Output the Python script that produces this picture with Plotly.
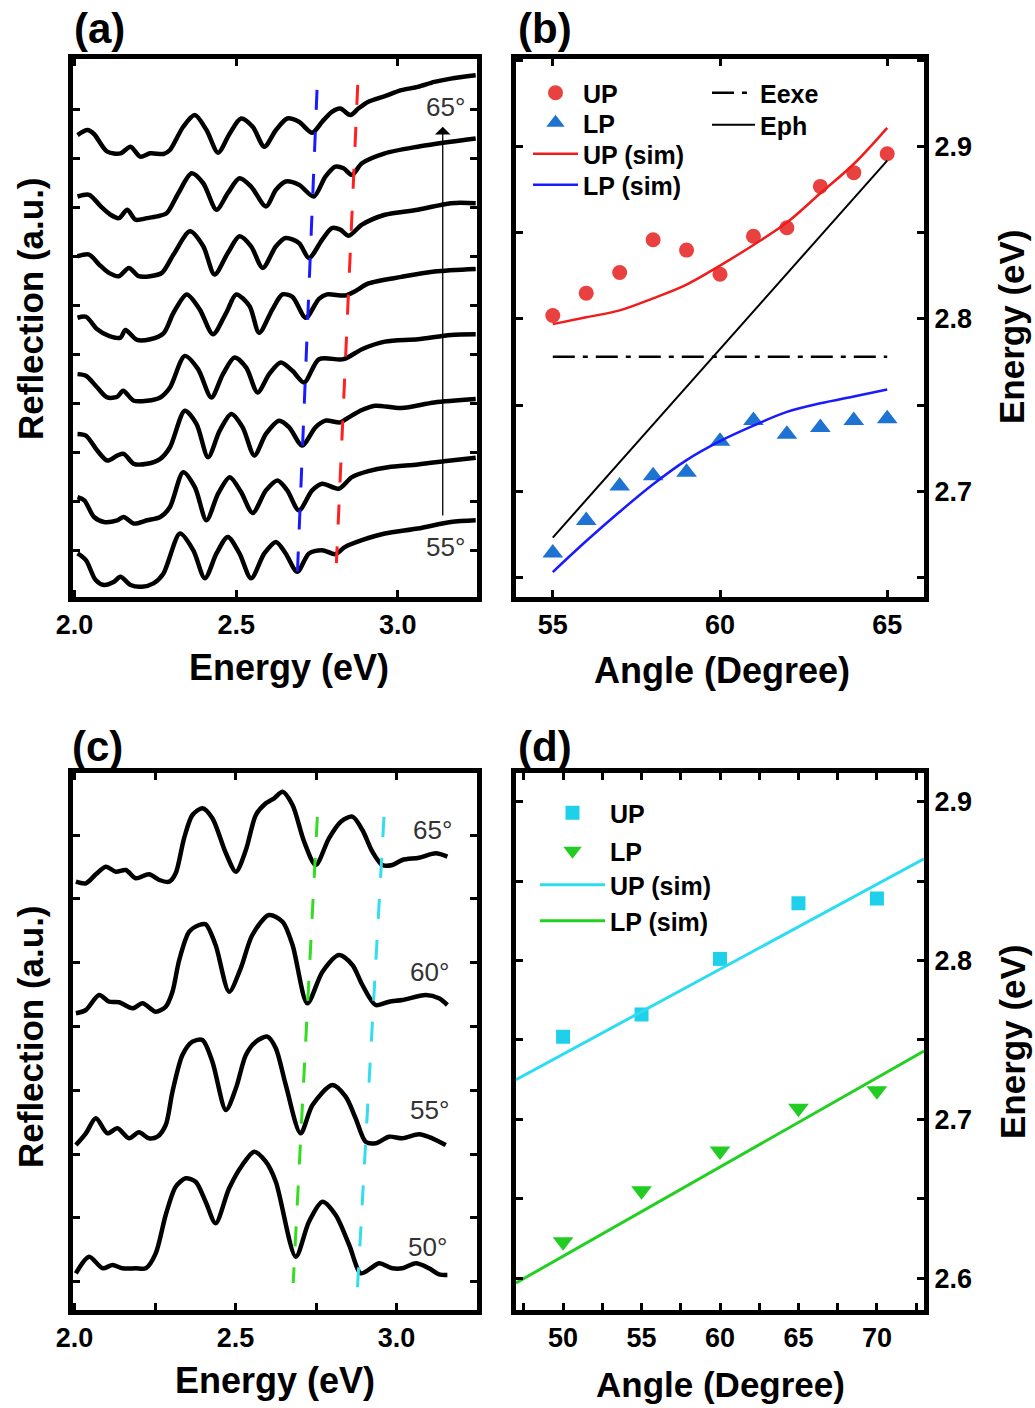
import plotly.graph_objects as go

FONT = "Liberation Sans, Arial, sans-serif"

# ---------------- Panel (a): reflection spectra, top (65°) to bottom (55°) ----------------
a1_e = [2.009, 2.040, 2.060, 2.101, 2.142, 2.173, 2.203, 2.234, 2.275, 2.295, 2.336, 2.372, 2.408, 2.444, 2.480, 2.515, 2.551, 2.587, 2.623, 2.658, 2.694, 2.735, 2.766, 2.796, 2.822, 2.853, 2.878, 2.909, 2.960, 3.011, 3.062, 3.113, 3.164, 3.241]
a1_r = [46.67, 47.17, 46.77, 45.0, 44.83, 45.5, 44.5, 44.83, 44.77, 45.17, 47.5, 48.67, 47.17, 44.9, 46.83, 48.33, 47.5, 45.5, 47.17, 48.33, 48.0, 46.9, 48.0, 49.0, 49.33, 48.67, 49.33, 50.0, 50.57, 51.17, 51.5, 52.0, 52.33, 52.67]

a2_e = [2.009, 2.045, 2.081, 2.111, 2.137, 2.163, 2.188, 2.224, 2.255, 2.285, 2.321, 2.362, 2.398, 2.439, 2.474, 2.510, 2.546, 2.592, 2.623, 2.653, 2.694, 2.740, 2.776, 2.807, 2.832, 2.858, 2.889, 2.960, 3.062, 3.164, 3.241]
a2_r = [40.5, 40.67, 39.5, 38.67, 38.33, 39.17, 38.17, 38.33, 38.5, 38.83, 40.83, 42.83, 41.83, 39.17, 40.83, 42.33, 41.5, 39.5, 41.17, 42.0, 41.67, 40.5, 42.5, 43.5, 43.33, 42.67, 43.83, 44.83, 45.5, 46.0, 46.33]

a3_e = [2.009, 2.045, 2.076, 2.106, 2.137, 2.168, 2.198, 2.234, 2.270, 2.306, 2.357, 2.398, 2.433, 2.474, 2.510, 2.546, 2.582, 2.623, 2.653, 2.694, 2.725, 2.766, 2.796, 2.822, 2.848, 2.889, 2.960, 3.062, 3.164, 3.241]
a3_r = [34.5, 34.67, 33.67, 32.83, 32.5, 33.33, 32.5, 32.5, 32.83, 34.67, 37.0, 35.5, 32.67, 34.83, 36.5, 35.5, 33.33, 35.5, 36.33, 35.83, 34.33, 36.17, 37.33, 37.17, 36.57, 37.67, 38.67, 39.17, 39.83, 39.83]

a4_e = [2.009, 2.035, 2.070, 2.106, 2.142, 2.157, 2.193, 2.234, 2.275, 2.306, 2.347, 2.387, 2.428, 2.469, 2.500, 2.541, 2.571, 2.612, 2.643, 2.674, 2.715, 2.756, 2.781, 2.837, 2.868, 2.909, 3.011, 3.113, 3.241]
a4_r = [28.33, 28.43, 27.17, 26.5, 26.33, 27.1, 26.1, 26.17, 26.77, 28.83, 30.67, 29.17, 26.67, 28.83, 30.67, 29.5, 26.83, 29.17, 30.67, 30.43, 28.33, 30.23, 30.67, 30.57, 31.0, 31.77, 32.43, 32.97, 33.23]

a5_e = [2.009, 2.035, 2.070, 2.101, 2.132, 2.150, 2.183, 2.224, 2.265, 2.295, 2.341, 2.382, 2.423, 2.459, 2.495, 2.531, 2.566, 2.602, 2.638, 2.674, 2.710, 2.756, 2.832, 2.889, 2.960, 3.062, 3.164, 3.241]
a5_r = [22.67, 22.5, 21.33, 20.33, 20.4, 21.0, 20.0, 20.0, 20.33, 21.33, 24.5, 23.17, 20.33, 22.67, 24.33, 23.33, 20.83, 22.67, 23.83, 23.0, 21.83, 24.17, 24.17, 25.17, 25.93, 26.17, 26.6, 26.67]

a6_e = [2.009, 2.035, 2.070, 2.101, 2.132, 2.152, 2.183, 2.224, 2.265, 2.295, 2.341, 2.377, 2.413, 2.449, 2.485, 2.520, 2.556, 2.592, 2.633, 2.664, 2.704, 2.745, 2.776, 2.822, 2.848, 2.889, 2.929, 3.011, 3.113, 3.241]
a6_r = [16.67, 16.5, 15.0, 14.0, 14.5, 14.67, 13.67, 13.67, 14.17, 15.33, 19.0, 17.67, 14.33, 17.0, 18.67, 17.33, 14.5, 16.67, 18.0, 17.33, 15.5, 17.33, 18.0, 17.83, 18.33, 19.07, 19.5, 19.27, 19.83, 20.17]

a7_e = [2.009, 2.030, 2.060, 2.091, 2.132, 2.152, 2.183, 2.224, 2.265, 2.295, 2.336, 2.372, 2.408, 2.444, 2.480, 2.515, 2.551, 2.592, 2.628, 2.658, 2.694, 2.735, 2.766, 2.817, 2.858, 2.909, 2.970, 3.062, 3.164, 3.241]
a7_r = [10.33, 10.0, 8.33, 7.83, 8.0, 8.33, 7.67, 8.0, 8.33, 9.33, 12.83, 11.33, 8.0, 10.67, 12.33, 10.83, 8.73, 11.0, 12.0, 11.0, 9.0, 11.0, 11.67, 11.17, 12.33, 12.93, 13.33, 13.6, 14.0, 14.27]

a8_e = [2.009, 2.035, 2.065, 2.091, 2.122, 2.142, 2.173, 2.208, 2.244, 2.275, 2.326, 2.367, 2.403, 2.439, 2.474, 2.510, 2.546, 2.587, 2.623, 2.653, 2.689, 2.725, 2.766, 2.807, 2.837, 2.889, 2.960, 3.062, 3.164, 3.241]
a8_r = [4.67, 4.0, 2.0, 1.5, 1.83, 2.33, 1.5, 1.33, 1.67, 2.67, 6.67, 5.0, 2.17, 4.67, 6.33, 4.67, 2.17, 4.67, 5.83, 4.67, 2.83, 4.67, 5.0, 4.6, 5.33, 6.0, 6.67, 7.17, 7.83, 8.0]

# guide lines in (a): LP dips (blue) and UP dips (red)
a_lp_guide_e = [2.750, 2.687]
a_lp_guide_r = [51.2, 0.8]
a_up_guide_e = [2.876, 2.810]
a_up_guide_r = [51.7, 3.7]

# ---------------- Panel (b): dispersion ----------------
b_angle = [55, 56, 57, 58, 59, 60, 61, 62, 63, 64, 65]
b_up = [2.802, 2.815, 2.827, 2.846, 2.840, 2.826, 2.848, 2.853, 2.877, 2.885, 2.896]
b_lp = [2.664, 2.683, 2.703, 2.709, 2.711, 2.729, 2.741, 2.733, 2.737, 2.741, 2.742]
b_up_sim = [2.797, 2.801, 2.805, 2.812, 2.820, 2.831, 2.843, 2.856, 2.873, 2.890, 2.911]
b_lp_sim = [2.653, 2.671, 2.688, 2.704, 2.718, 2.729, 2.738, 2.746, 2.751, 2.755, 2.759]
b_line_angle = [55, 65]
b_eexe = [2.778, 2.778]
b_eph = [2.673, 2.892]

# ---------------- Panel (c): reflection spectra 65°, 60°, 55°, 50° ----------------
c65_e = [2.004, 2.035, 2.066, 2.097, 2.128, 2.159, 2.190, 2.231, 2.263, 2.294, 2.314, 2.340, 2.366, 2.397, 2.428, 2.470, 2.501, 2.532, 2.563, 2.594, 2.620, 2.646, 2.677, 2.713, 2.749, 2.790, 2.827, 2.863, 2.894, 2.925, 2.956, 2.987, 3.018, 3.070, 3.122, 3.158]
c65_r = [42.83, 42.67, 43.57, 44.33, 43.83, 44.0, 43.17, 43.57, 43.0, 42.83, 43.67, 47.17, 49.5, 50.17, 49.17, 45.67, 43.83, 46.0, 49.5, 50.67, 51.17, 51.83, 50.5, 46.83, 44.5, 47.17, 48.83, 49.33, 48.0, 45.83, 44.5, 44.5, 45.0, 45.23, 45.67, 45.33]

c60_e = [2.004, 2.035, 2.076, 2.107, 2.138, 2.180, 2.211, 2.252, 2.283, 2.304, 2.325, 2.356, 2.387, 2.407, 2.438, 2.480, 2.516, 2.552, 2.604, 2.646, 2.677, 2.723, 2.770, 2.822, 2.863, 2.894, 2.935, 2.977, 3.018, 3.091, 3.132, 3.158]
c60_r = [29.67, 30.0, 31.5, 30.83, 30.77, 30.17, 30.67, 29.83, 30.33, 31.83, 35.0, 37.83, 38.5, 38.57, 36.5, 31.83, 34.17, 37.5, 39.5, 38.83, 36.5, 30.67, 33.83, 35.5, 34.5, 32.5, 30.5, 30.83, 31.0, 31.5, 31.17, 30.5]

c55_e = [2.004, 2.035, 2.066, 2.102, 2.133, 2.169, 2.200, 2.231, 2.257, 2.283, 2.304, 2.335, 2.366, 2.397, 2.428, 2.470, 2.501, 2.532, 2.563, 2.599, 2.625, 2.656, 2.702, 2.739, 2.801, 2.842, 2.873, 2.904, 2.935, 2.977, 3.018, 3.070, 3.111, 3.153]
c55_r = [16.5, 17.67, 19.17, 17.67, 18.17, 17.17, 17.77, 17.17, 17.33, 18.5, 21.83, 25.5, 26.83, 27.0, 24.83, 20.0, 22.17, 25.5, 26.83, 27.33, 26.17, 22.5, 17.67, 20.5, 22.5, 21.33, 19.17, 16.83, 16.67, 17.33, 17.17, 17.57, 17.17, 16.5]

c50_e = [2.004, 2.045, 2.087, 2.118, 2.149, 2.190, 2.221, 2.252, 2.283, 2.314, 2.345, 2.376, 2.407, 2.438, 2.480, 2.521, 2.558, 2.594, 2.625, 2.687, 2.728, 2.770, 2.811, 2.853, 2.889, 2.920, 2.946, 2.987, 3.018, 3.060, 3.101, 3.132, 3.158]
c50_r = [3.67, 5.33, 4.17, 4.5, 4.17, 4.17, 4.17, 5.67, 9.5, 12.33, 13.17, 12.83, 10.83, 8.67, 12.17, 14.5, 15.83, 14.83, 12.83, 5.33, 8.83, 10.83, 9.5, 6.5, 3.67, 4.17, 4.67, 4.17, 4.17, 4.67, 4.17, 3.57, 3.5]

c_lp_guide_e = [2.754, 2.679]
c_lp_guide_r = [49.3, 2.7]
c_up_guide_e = [2.961, 2.878]
c_up_guide_r = [49.3, 1.8]

# ---------------- Panel (d): dispersion ----------------
d_angle = [50, 55, 60, 65, 70]
d_up = [2.752, 2.766, 2.801, 2.836, 2.839]
d_lp = [2.623, 2.655, 2.680, 2.707, 2.718]
d_sim_angle = [47, 73]
d_up_sim = [2.725, 2.864]
d_lp_sim = [2.597, 2.743]

# ---------------- colours ----------------
RED_PT = "#e8413f"
BLUE_PT = "#1e73d2"
RED_LN = "#f01c1c"
BLUE_LN = "#1a1aff"
CYAN_PT = "#1fd0ea"
GREEN_PT = "#22cc22"
CYAN_LN = "#2edcf2"
GREEN_LN = "#22d022"

W, H = 1035, 1408
def PX(x):
    return x / W
def PY(y):
    return 1 - y / H

fig = go.Figure()

spec_line = dict(color="black", width=4.5, shape="spline", smoothing=0.8)
for e, r in [(a1_e, a1_r), (a2_e, a2_r), (a3_e, a3_r), (a4_e, a4_r),
             (a5_e, a5_r), (a6_e, a6_r), (a7_e, a7_r), (a8_e, a8_r)]:
    fig.add_trace(go.Scatter(x=e, y=r, mode="lines", line=spec_line,
                             showlegend=False, xaxis="x", yaxis="y", hoverinfo="skip"))
fig.add_trace(go.Scatter(x=a_lp_guide_e, y=a_lp_guide_r, mode="lines",
                         line=dict(color=BLUE_LN, width=3, dash="20px,22px"),
                         showlegend=False, xaxis="x", yaxis="y"))
fig.add_trace(go.Scatter(x=a_up_guide_e, y=a_up_guide_r, mode="lines",
                         line=dict(color="#ff2020", width=3, dash="20px,22px"),
                         showlegend=False, xaxis="x", yaxis="y"))

# panel b (each legend entry gets its own legend box so rows sit exactly)
fig.add_trace(go.Scatter(x=b_angle, y=b_up, mode="markers", name="UP",
                         marker=dict(symbol="circle", size=15, color=RED_PT),
                         xaxis="x2", yaxis="y2", legend="legend"))
fig.add_trace(go.Scatter(x=b_angle, y=b_lp, mode="markers", name="LP",
                         marker=dict(symbol="triangle-up", size=18, color=BLUE_PT),
                         xaxis="x2", yaxis="y2", legend="legend2"))
fig.add_trace(go.Scatter(x=b_angle, y=b_up_sim, mode="lines", name="UP (sim)",
                         line=dict(color=RED_LN, width=2.5, shape="spline"),
                         xaxis="x2", yaxis="y2", legend="legend3"))
fig.add_trace(go.Scatter(x=b_angle, y=b_lp_sim, mode="lines", name="LP (sim)",
                         line=dict(color=BLUE_LN, width=2.5, shape="spline"),
                         xaxis="x2", yaxis="y2", legend="legend4"))
fig.add_trace(go.Scatter(x=b_line_angle, y=b_eexe, mode="lines", name="Eexe",
                         line=dict(color="black", width=2.5, dash="22px,8px,5px,8px"),
                         xaxis="x2", yaxis="y2", legend="legend5"))
fig.add_trace(go.Scatter(x=b_line_angle, y=b_eph, mode="lines", name="Eph",
                         line=dict(color="black", width=2),
                         xaxis="x2", yaxis="y2", legend="legend6"))

# panel c
for e, r in [(c65_e, c65_r), (c60_e, c60_r), (c55_e, c55_r), (c50_e, c50_r)]:
    fig.add_trace(go.Scatter(x=e, y=r, mode="lines", line=spec_line,
                             showlegend=False, xaxis="x3", yaxis="y3", hoverinfo="skip"))
fig.add_trace(go.Scatter(x=c_lp_guide_e, y=c_lp_guide_r, mode="lines",
                         line=dict(color="#33dd22", width=3, dash="20px,21px"),
                         showlegend=False, xaxis="x3", yaxis="y3"))
fig.add_trace(go.Scatter(x=c_up_guide_e, y=c_up_guide_r, mode="lines",
                         line=dict(color="#33ddee", width=3, dash="20px,21px"),
                         showlegend=False, xaxis="x3", yaxis="y3"))

# panel d
fig.add_trace(go.Scatter(x=d_angle, y=d_up, mode="markers", name="UP",
                         marker=dict(symbol="square", size=14, color=CYAN_PT),
                         xaxis="x4", yaxis="y4", legend="legend7"))
fig.add_trace(go.Scatter(x=d_angle, y=d_lp, mode="markers", name="LP",
                         marker=dict(symbol="triangle-down", size=18, color=GREEN_PT),
                         xaxis="x4", yaxis="y4", legend="legend8"))
fig.add_trace(go.Scatter(x=d_sim_angle, y=d_up_sim, mode="lines", name="UP (sim)",
                         line=dict(color=CYAN_LN, width=3),
                         xaxis="x4", yaxis="y4", legend="legend9"))
fig.add_trace(go.Scatter(x=d_sim_angle, y=d_lp_sim, mode="lines", name="LP (sim)",
                         line=dict(color=GREEN_LN, width=3),
                         xaxis="x4", yaxis="y4", legend="legend10"))

tickfont = dict(family=FONT, size=27, color="black", weight="bold")
frame = dict(showline=True, linecolor="black", linewidth=5, mirror="allticks",
             ticks="inside", ticklen=7, tickwidth=3, tickcolor="black",
             showgrid=False, zeroline=False, tickfont=tickfont, fixedrange=True,
             automargin=False)
minor_style = dict(ticks="inside", ticklen=7, tickwidth=3, tickcolor="black", showgrid=False)

XL = [PX(73), PX(477)]
XR = [PX(516), PX(924)]
YT = [PY(597), PY(59)]
YB = [PY(1310), PY(773)]

legfont = dict(family=FONT, size=25, color="black", weight="bold")
def leg(px, py, width):
    return dict(x=PX(px), y=PY(py), xanchor="left", yanchor="middle",
                bgcolor="rgba(0,0,0,0)", borderwidth=0, itemwidth=width, font=legfont)

fig.update_layout(
    width=W, height=H,
    margin=dict(l=0, r=0, t=0, b=0, pad=0, autoexpand=False),
    paper_bgcolor="white", plot_bgcolor="white",
    xaxis=dict(frame, domain=XL, anchor="y", range=[1.995, 3.245],
               tickmode="linear", tick0=2.0, dtick=0.5, tickformat=".1f"),
    yaxis=dict(frame, domain=YT, anchor="x", range=[0.3, 54.3],
               tickmode="linear", tick0=5.0, dtick=4.92, showticklabels=False),
    xaxis2=dict(frame, domain=XR, anchor="y2", range=[53.9, 66.1],
                tickmode="linear", tick0=55, dtick=5),
    yaxis2=dict(frame, domain=YT, anchor="x2", side="right", range=[2.6385, 2.951],
                tickmode="linear", tick0=2.7, dtick=0.1, tickformat=".1f",
                minor=dict(minor_style, dtick=0.05, tick0=2.65)),
    xaxis3=dict(frame, domain=XL, anchor="y3", range=[1.995, 3.25],
                tickmode="linear", tick0=2.0, dtick=0.5, tickformat=".1f",
                minor=dict(minor_style, dtick=0.25, tick0=2.0)),
    yaxis3=dict(frame, domain=YB, anchor="x3", range=[0, 53.7],
                tickmode="linear", tick0=2.83, dtick=6.38, showticklabels=False),
    xaxis4=dict(frame, domain=XR, anchor="y4", range=[47, 73],
                tickmode="linear", tick0=50, dtick=5,
                minor=dict(minor_style, dtick=2.5, tick0=47.5)),
    yaxis4=dict(frame, domain=YB, anchor="x4", side="right", range=[2.58, 2.918],
                tickmode="linear", tick0=2.6, dtick=0.1, tickformat=".1f",
                minor=dict(minor_style, dtick=0.05, tick0=2.6)),
    legend=leg(528, 93, 45),
    legend2=leg(528, 123, 45),
    legend3=leg(528, 154, 45),
    legend4=leg(528, 185, 45),
    legend5=leg(707, 93, 43),
    legend6=leg(707, 125, 43),
    legend7=leg(535, 813, 65),
    legend8=leg(535, 851, 65),
    legend9=leg(535, 885, 65),
    legend10=leg(535, 921, 65),
)

ann = []
def paper_text(txt, px, py, size, angle=0, yanchor="middle"):
    ann.append(dict(text=txt, x=PX(px), y=PY(py), xref="paper", yref="paper",
                    showarrow=False, textangle=angle, xanchor="center", yanchor=yanchor,
                    font=dict(family=FONT, size=size, color="black", weight="bold")))

paper_text("(a)", 99, 3, 42, yanchor="top")
paper_text("(b)", 545, 3, 42, yanchor="top")
paper_text("(c)", 97, 721, 42, yanchor="top")
paper_text("(d)", 545, 721, 42, yanchor="top")
paper_text("Energy (eV)", 289, 668, 36)
paper_text("Angle (Degree)", 722, 670, 36)
paper_text("Energy (eV)", 275, 1380, 36)
paper_text("Angle (Degree)", 720, 1406, 35, yanchor="bottom")
paper_text("Reflection (a.u.)", 30, 309, 35, -90)
paper_text("Reflection (a.u.)", 30, 1037, 35, -90)
paper_text("Energy (eV)", 1012, 327, 35, -90)
paper_text("Energy (eV)", 1012, 1042, 35, -90)

def data_text(txt, x, y, xr, yr):
    ann.append(dict(text=txt, x=x, y=y, xref=xr, yref=yr, showarrow=False,
                    xanchor="center", yanchor="middle",
                    font=dict(family=FONT, size=26, color="#333333")))

data_text("65°", 3.149, 49.5, "x", "y")
data_text("55°", 3.149, 5.33, "x", "y")
data_text("65°", 3.111, 48.0, "x3", "y3")
data_text("60°", 3.101, 33.83, "x3", "y3")
data_text("55°", 3.101, 20.0, "x3", "y3")
data_text("50°", 3.096, 6.33, "x3", "y3")

# angle-increase arrow in (a)
ann.append(dict(x=3.139, y=47.5, ax=3.139, ay=8.33, xref="x", yref="y", axref="x", ayref="y",
                text="", showarrow=True, arrowhead=1, arrowsize=2, arrowwidth=1.3,
                arrowcolor="black"))

fig.update_layout(annotations=ann)
fig.write_html("out.html",
               config={"displayModeBar": False, "staticPlot": True},
               post_script="document.body.style.margin='0px';"
                           "document.body.style.overflow='hidden';")
